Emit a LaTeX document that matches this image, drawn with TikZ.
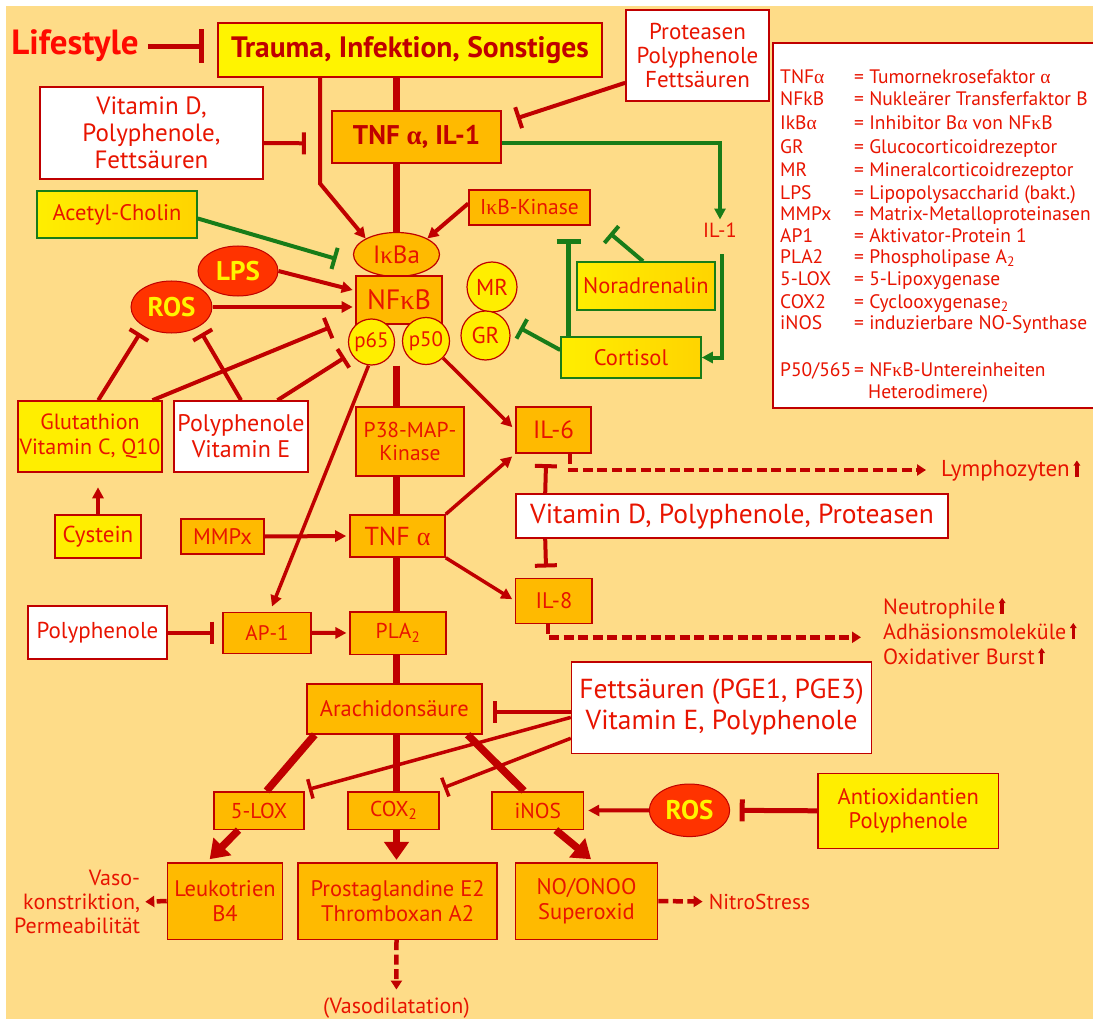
\documentclass[tikz,border=0pt]{standalone}
\usepackage{fontspec}
\setmainfont{PT Sans}
\newfontfamily\grk{Liberation Serif}
\newcommand\ga{{\grk α}}
\newcommand\gk{{\grk κ}}
\usetikzlibrary{arrows.meta,shapes.geometric,calc}
\definecolor{bg}{HTML}{FEDC88}
\definecolor{dred}{HTML}{C00000}
\definecolor{tred}{HTML}{E81400}
\definecolor{orf}{HTML}{FFBA00}
\definecolor{yel}{HTML}{FFEE00}
\definecolor{yelT}{HTML}{FFF400}
\definecolor{yelB}{HTML}{FFD400}
\definecolor{rosf}{HTML}{FF3300}
\definecolor{grn}{HTML}{187C18}
\definecolor{lifered}{HTML}{FF0A00}
\newcommand\fz[2]{\fontsize{#1}{#2}\selectfont}
\newcommand\myup{\tikz[baseline=0pt,x=1pt,y=1pt]\draw[dred,line width=3.5pt,-{Triangle[length=5pt,width=6.5pt]}] (0,0)--(0,16);}
\tikzset{
  box/.style={draw=dred,line width=1.6pt,inner sep=0pt,align=center,text=tred,font=\fz{22.5}{25}},
  obox/.style={box,fill=orf},
  ybox/.style={box,fill=yel},
  wbox/.style={box,fill=white},
  gbox/.style={box,draw=grn,left color=yel,right color=yelB},
  rell/.style={ellipse,draw=dred,line width=1pt,fill=rosf,text=yelT,font=\bfseries\fz{27}{27},inner sep=0pt},
  circ/.style={circle,draw=dred,line width=1.2pt,fill=yel,text=tred,font=\fz{21}{21},inner sep=0pt},
  lbl/.style={text=tred,inner sep=0pt,font=\fz{22}{24}},
  ln/.style={draw=dred,line width=4pt},
  mainln/.style={draw=dred,line width=6.5pt},
  ar/.style={ln,-{Triangle[length=11pt,width=11pt]}},
  inh/.style={ln,-{Bar[width=22pt]}},
  gln/.style={draw=grn,line width=4pt},
  gar/.style={gln,-{Triangle[length=11pt,width=11pt]}},
  ginh/.style={gln,-{Bar[width=22pt]}},
  bigar/.style={draw=dred,line width=7.5pt,-{Triangle[length=18pt,width=24pt]}},
  thk/.style={draw=dred,line width=7.5pt},
  dsh/.style={draw=dred,line width=4.5pt,dash pattern=on 10pt off 4.5pt,-{Triangle[length=9pt,width=11pt]}},
  leg/.style={anchor=base west,text=tred,inner sep=0pt,font=\fz{19.5}{22}},
}
\begin{document}
\begin{tikzpicture}[x=1pt,y=-1pt]
\useasboundingbox (0,0) rectangle (1093,1019);
\clip (0,0) rectangle (1093,1019);
\fill[white] (0,0) rectangle (1093,1019);
\fill[bg] (6,6) rectangle (1093,1019);

% legend
\node[draw=dred,line width=1.6pt,fill=white,minimum width=340,minimum height=365,inner sep=0pt] (legend) at (943,225.5) {};
\foreach \yy/\ab/\df [count=\k] in {
  83.3/TNF\ga/= Tumornekrosefaktor \ga,
  106/NFkB/= Nukleärer Transferfaktor B,
  130/IkB\ga/= Inhibitor B\ga{} von NF\gk B,
  153.3/GR/= Glucocorticoidrezeptor,
  176.7/MR/= Mineralcorticoidrezeptor,
  200/LPS/= Lipopolysaccharid (bakt.),
  220.7/MMPx/= Matrix-Metalloproteinasen,
  242.3/AP1/= Aktivator-Protein 1,
  263.3/PLA2/= Phospholipase A\textsubscript{2},
  286/5-LOX/= 5-Lipoxygenase,
  308.3/COX2/= Cyclooxygenase\textsubscript{2},
  330/iNOS/= induzierbare NO-Synthase}{
  \node[leg] (la\k) at (780,\yy) {\ab};
  \node[leg] (ld\k) at (854,\yy) {\df};
}
\node[leg] (lpa) at (780,376.7) {P50/565};
\node[leg] (lpb) at (854,376.7) {= NF\gk B-Untereinheiten};
\node[leg] (lpc) at (868,398.3) {Heterodimere)};

% nodes
\node[anchor=base,text=lifered,inner sep=0pt,font=\bfseries\fz{35}{35}] (life) at (75,55) {Lifestyle};
\node[ybox,fill=yelT,minimum width=384,minimum height=54,font=\bfseries\fz{29.5}{29.5},text=dred] (trauma) at (410,50.3) {Trauma, Infektion, Sonstiges};
\node[wbox,minimum width=143,minimum height=91,font=\fz{23}{24}] (prot) at (697.5,55.5) {Proteasen\\Polyphenole\\Fettsäuren};
\node[wbox,minimum width=223,minimum height=92,font=\fz{25}{26.7}] (vitd) at (151.5,133) {Vitamin D,\\Polyphenole,\\Fettsäuren};
\node[obox,minimum width=169,minimum height=52,font=\bfseries\fz{27}{27},text=dred] (tnfil) at (416.5,137) {TNF \ga, IL-1};
\node[gbox,minimum width=160,minimum height=47] (acetyl) at (117,214.5) {Acetyl-Cholin};
\node[obox,minimum width=121,minimum height=35,font=\fz{21.5}{21.5}] (ikbk) at (529.5,207.5) {I\gk B-Kinase};
\node[ellipse,draw=dred,line width=1.2pt,fill=orf,text=tred,inner sep=0pt,minimum width=86,minimum height=44,font=\fz{25}{25}] (ikba) at (396.5,254.5) {I\gk Ba};
\node[rell,minimum width=80,minimum height=50] (lps) at (238,271) {LPS};
\node[rell,minimum width=81,minimum height=52] (rosa) at (171.5,307) {ROS};
\node[obox,minimum width=86,minimum height=48,font=\fz{28}{28}] (nfkb) at (399,300) {NF\gk B};
\node[circ,minimum size=46] (p65) at (371.5,342) {p65};
\node[circ,minimum size=47] (p50) at (426,341) {p50};
\node[circ,minimum size=50,font=\fz{23}{23}] (mr) at (492,287) {MR};
\node[circ,minimum size=49,font=\fz{23}{23}] (gr) at (485.5,335.5) {GR};
\node[gbox,minimum width=138,minimum height=48] (nor) at (646,286) {Noradrenalin};
\node[gbox,minimum width=140,minimum height=41] (cort) at (631,357.5) {Cortisol};
\node[lbl,font=\fz{20.5}{20.5},inner sep=3pt] (ilone) at (720,230) {IL-1};
\node[ybox,minimum width=144,minimum height=71,font=\fz{22}{25}] (glut) at (90,436.5) {Glutathion\\Vitamin C, Q10};
\node[wbox,minimum width=134,minimum height=71,font=\fz{24}{26}] (polye) at (241,436.5) {Polyphenole\\Vitamin E};
\node[ybox,minimum width=86,minimum height=43,font=\fz{23}{23}] (cyst) at (98,536.5) {Cystein};
\node[obox,minimum width=83,minimum height=35,font=\fz{22.5}{22.5}] (mmpx) at (222.5,536.5) {MMPx};
\node[obox,minimum width=108,minimum height=69,font=\fz{21.5}{22.5}] (ptt) at (410,441.5) {P38-MAP-\\Kinase};
\node[obox,minimum width=75,minimum height=46,font=\fz{25}{25}] (ilsix) at (553.5,430) {IL-6};
\node[obox,minimum width=95,minimum height=42,font=\fz{26}{26}] (tnfa) at (397.5,536) {TNF \ga};
\node[wbox,minimum width=432,minimum height=44,font=\fz{27.5}{27.5}] (vdpp) at (732,516.2) {Vitamin D, Polyphenole, Proteasen};
\node[obox,minimum width=76.6,minimum height=45,font=\fz{22.5}{22.5}] (ileight) at (553.9,600.8) {IL-8};
\node[lbl,anchor=west,font=\fz{23}{24}] (lymph) at (941,470) {Lymphozyten\,\myup};
\node[lbl,anchor=west,align=left,font=\fz{22}{25}] (neut) at (883,631) {Neutrophile\,\myup\\Adhäsionsmoleküle\,\myup\\Oxidativer Burst\,\myup};
\node[wbox,minimum width=139,minimum height=53,font=\fz{23}{23}] (polyl) at (97.5,632.7) {Polyphenole};
\node[obox,minimum width=88,minimum height=41,font=\fz{21}{21}] (apone) at (267,632.8) {AP-1};
\node[obox,minimum width=95.5,minimum height=42.6,font=\fz{21.5}{21.5}] (pla) at (398,633) {PLA\textsubscript{2}};
\node[obox,minimum width=175,minimum height=50] (arach) at (394.3,709) {Arachidonsäure};
\node[wbox,minimum width=300,minimum height=91.6,font=\fz{27.5}{31}] (fett) at (721.6,707.5) {Fettsäuren (PGE1, PGE3)\\Vitamin E, Polyphenole};
\node[obox,minimum width=90,minimum height=37.6,font=\fz{21.5}{21.5}] (lox) at (259,810.5) {5-LOX};
\node[obox,minimum width=91,minimum height=37.6,font=\fz{21.5}{21.5}] (cox) at (393.7,810.5) {COX\textsubscript{2}};
\node[obox,minimum width=91.3,minimum height=37.6,font=\fz{21.5}{21.5}] (inos) at (537.8,810.5) {iNOS};
\node[rell,minimum width=80.4,minimum height=52.6] (rosb) at (689.5,810.3) {ROS};
\node[ybox,minimum width=180.6,minimum height=75,font=\fz{22.5}{24}] (antiox) at (908.3,810.8) {Antioxidantien\\Polyphenole};
\node[obox,minimum width=115,minimum height=76.6] (leuk) at (225,901) {Leukotrien\\B4};
\node[obox,minimum width=199,minimum height=76.6] (prost) at (397.7,901) {Prostaglandine E2\\Thromboxan A2};
\node[obox,minimum width=142,minimum height=76.6] (nono) at (586.5,901) {NO/ONOO\\Superoxid};
\node[lbl,anchor=east,align=right,font=\fz{22}{24}] (vaso) at (140.3,902) {Vaso-\\konstriktion,\\Permeabilität};
\node[lbl] (vdil) at (396.4,1008) {(Vasodilatation)};
\node[lbl,anchor=west,font=\fz{21.5}{21.5}] (nitro) at (708.6,901.7) {NitroStress};

% free ends of inhibitor bars
\coordinate (bprot) at (516.7,118.3);
\coordinate (bach) at (336.5,259);
\coordinate (bnor) at (610,233.3);
\coordinate (bgr) at (520,328);
\coordinate (bg1) at (140,333.3);
\coordinate (bp1) at (201.7,333.3);
\coordinate (bg2) at (330,327.3);
\coordinate (bp2) at (345,357.3);
\coordinate (blox) at (308.7,789.3);
\coordinate (bcox) at (443.7,787.7);

% main vertical line
\draw[mainln] (ikba.north |- trauma.south) -- (ikba.north |- tnfil.north);
\draw[mainln] (ikba.north |- tnfil.south) -- (ikba.north);
\draw[mainln] (ikba.north |- p65.south) -- (ikba.north |- ptt.north);
\draw[mainln] (ikba.north |- ptt.south) -- (ikba.north |- tnfa.north);
\draw[mainln] (ikba.north |- tnfa.south) -- (ikba.north |- pla.north);
\draw[mainln] (ikba.north |- pla.south) -- (ikba.north |- arach.north);
\draw[mainln] (ikba.north |- arach.south) -- (ikba.north |- cox.north);

% connectors
\draw[ln,line width=5pt,-{Bar[width=34pt]},shorten <=9pt,shorten >=13pt] (life.east) -- (life.east -| trauma.west);
\draw[ar] ($(trauma.south)+(-90,0)$) -- ++(0,105.4) -- (ikba.north west);
\draw[inh] ($(prot.south west)+(0,-19)$) -- (bprot);
\draw[inh] ($(vitd.east)+(0,10)$) -- ($(tnfil.west)+(-25.3,6.3)$);
\draw[gar] ($(tnfil.east)+(0,6.3)$) -| (ilone.north);
\draw[gar,shorten <=14pt] ($(ilone.south)+(2,0)$) |- (cort.east);
\draw[ginh] ($(acetyl.east)+(0,4)$) -- (bach);
\draw[ar] ($(ikbk.west)+(0,-4)$) -- (ikba.north east);
\draw[ginh] ($(nor.north)+(-3,0)$) -- (bnor);
\draw[ginh,line width=5pt,-{Bar[width=24pt]}] ($(cort.north west)+(8.3,0)$) -- ++(0,-97);
\draw[ginh] ($(cort.west)+(0,-7.5)$) -- (bgr);
\draw[ar] (lps.east) -- ($(nfkb.west)+(-2.5,-10)$);
\draw[ar,shorten >=2.5pt] (rosa.east) -- (rosa.east -| nfkb.west);
\draw[inh] ($(glut.north)+(8.3,0)$) -- (bg1);
\draw[inh] (polye.north) -- (bp1);
\draw[inh] ($(glut.north east)+(-10.3,0)$) -- (bg2);
\draw[inh] ($(polye.north east)+(-31.3,0)$) -- (bp2);
\draw[ar,shorten >=14.5pt] (cyst.north) -- (cyst.north |- glut.south);
\draw[ar,shorten >=3pt] (mmpx.east) -- (tnfa.west);
\draw[ar,line width=3.5pt] ($(p65.south)+(-3,0)$) -- ($(apone.north)+(5,-5)$);
\draw[ar,line width=3.5pt,shorten >=4pt] (p50.south east) -- (ilsix.west);
\draw[ar,line width=3.5pt,shorten >=4pt] (tnfa.north east) -- (ilsix.south west);
\draw[ar,line width=3.5pt,shorten >=3pt] (tnfa.south east) -- (ileight.west);
\draw[dsh,shorten >=15pt] ($(ilsix.south)+(16.5,0)$) |- (lymph.west);
\draw[inh] ($(vdpp.north west)+(30,0)$) -- ($(ilsix.south)+(-7.5,10.3)$);
\draw[inh] ($(vdpp.south west)+(30,0)$) -- ($(ileight.north)+(-7.9,-10)$);
\draw[dsh,shorten >=22pt] ($(ileight.south)+(-6.1,0)$) |- ($(neut.west)+(0,6.3)$);
\draw[inh,shorten >=8.7pt] (polyl.east) -- (polyl.east -| apone.west);
\draw[ar,shorten >=3pt] (apone.east) -- (pla.west);
\draw[inh] ($(fett.west)+(0,4.2)$) -- ($(arach.east)+(10.4,2.7)$);
\draw[inh,line width=3.5pt,-{Bar[width=20pt]}] ($(fett.west)+(0,9.9)$) -- (blox);
\draw[inh,line width=3.5pt,-{Bar[width=20pt]}] ($(fett.west)+(0,30.8)$) -- (bcox);
\draw[thk] ($(arach.south west)+(8.7,0)$) -- ($(lox.north)+(7.6,0)$);
\draw[thk] ($(arach.south east)+(-15,0)$) -- ($(inos.north)+(-13.8,0)$);
\draw[bigar] ($(lox.south)+(-20.5,0)$) -- ($(leuk.north)+(-15.3,-2.7)$);
\draw[bigar] (ikba.north |- cox.south) -- ($(ikba.north |- prost.north)+(0,-2)$);
\draw[bigar] ($(inos.south)+(18,0)$) -- ($(nono.north)+(4.5,-2.7)$);
\draw[ar,shorten >=4pt] (rosb.west) -- (inos.east);
\draw[inh,line width=5pt,shorten >=9.5pt] (antiox.west) -- (rosb.east);
\draw[dsh,shorten >=5pt] (leuk.west) -- (vaso.east);
\draw[dsh,shorten >=8pt] (ikba.north |- prost.south) -- (vdil.north);
\draw[dsh,shorten >=6pt] (nono.east) -- (nitro.west);
\end{tikzpicture}
\end{document}
